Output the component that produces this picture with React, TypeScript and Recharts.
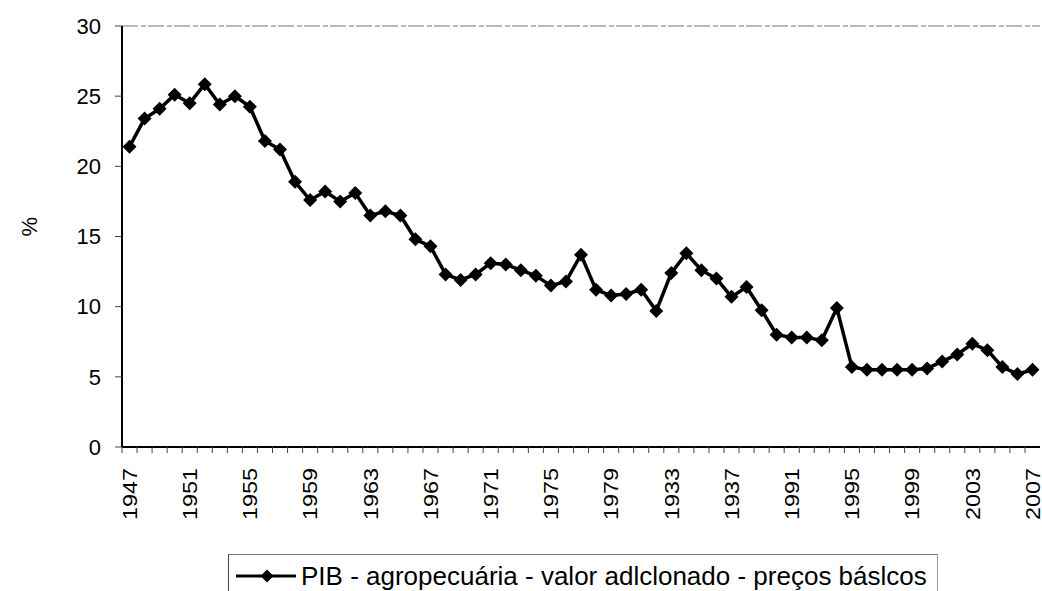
import { Legend, Line, LineChart, ReferenceLine, XAxis, YAxis } from 'recharts'

const years = [
  1947, 1948, 1949, 1950, 1951, 1952, 1953, 1954, 1955, 1956,
  1957, 1958, 1959, 1960, 1961, 1962, 1963, 1964, 1965, 1966,
  1967, 1968, 1969, 1970, 1971, 1972, 1973, 1974, 1975, 1976,
  1977, 1978, 1979, 1980, 1981, 1982, 1983, 1984, 1985, 1986,
  1987, 1988, 1989, 1990, 1991, 1992, 1993, 1994, 1995, 1996,
  1997, 1998, 1999, 2000, 2001, 2002, 2003, 2004, 2005, 2006, 2007,
]

const pibAgro = [
  21.4, 23.4, 24.1, 25.1, 24.5, 25.85, 24.4, 25.0, 24.25, 21.8,
  21.2, 18.9, 17.6, 18.2, 17.5, 18.1, 16.5, 16.8, 16.5, 14.8,
  14.3, 12.3, 11.9, 12.3, 13.1, 13.0, 12.6, 12.2, 11.5, 11.8,
  13.7, 11.2, 10.8, 10.9, 11.2, 9.7, 12.4, 13.8, 12.6, 12.0,
  10.7, 11.4, 9.75, 8.0, 7.8, 7.8, 7.6, 9.9, 5.7, 5.5,
  5.5, 5.5, 5.5, 5.6, 6.1, 6.6, 7.35, 6.9, 5.7, 5.2, 5.5,
]

// labels as printed on the original axis (scan shows 1933 / 1937)
const tickYears = [1947, 1951, 1955, 1959, 1963, 1967, 1971, 1975, 1979, 1983, 1987, 1991, 1995, 1999, 2003, 2007]
const tickLabels = ['1947', '1951', '1955', '1959', '1963', '1967', '1971', '1975', '1979', '1933', '1937', '1991', '1995', '1999', '2003', '2007']

const yTicks = [0, 5, 10, 15, 20, 25, 30]

const seriesName = 'PIB - agropecuária - valor adlclonado - preços báslcos'

const data = years.map((year, i) => ({ year, value: pibAgro[i] }))

const FONT = '"Liberation Sans", Arial, sans-serif'

function Diamond(props: any) {
  const { cx, cy, index } = props
  if (cx == null || cy == null) return null
  const r = 7
  return (
    <path
      key={`d-${index}`}
      d={`M${cx},${cy - r}L${cx + r},${cy}L${cx},${cy + r}L${cx - r},${cy}Z`}
      fill="#000"
    />
  )
}

function YearTick(props: any) {
  const { x, y, payload } = props
  const pos = tickYears.indexOf(payload.value)
  return (
    <g>
      <line x1={x - 7.5} x2={x - 7.5} y1={y} y2={y + 6} stroke="#444" strokeWidth={1} />
      {pos >= 0 && (
        <text
          transform={`translate(${x},${y + 21}) scale(1,1.17) rotate(-90)`}
          textAnchor="end"
          dy="0.36em"
          fontSize={20}
          fontFamily={FONT}
          fill="#000"
        >
          {tickLabels[pos]}
        </text>
      )}
    </g>
  )
}

function LegendBox() {
  return (
    <div
      style={{
        height: 37,
        borderTop: '1px solid #777',
        borderLeft: '1px solid #444',
        borderRight: '1px solid #999',
        display: 'flex',
        alignItems: 'center',
        fontFamily: FONT,
        fontSize: 26,
        color: '#000',
        boxSizing: 'border-box',
        paddingTop: 6,
      }}
    >
      <svg width={72} height={20} style={{ marginLeft: 6 }}>
        <line x1={1} x2={61} y1={10} y2={10} stroke="#000" strokeWidth={3} />
        <path d="M32,3.5L38.5,10L32,16.5L25.5,10Z" fill="#000" />
      </svg>
      <span style={{ whiteSpace: 'nowrap', marginLeft: -6 }}>{seriesName}</span>
    </div>
  )
}

export default function App() {
  return (
    <div style={{ position: 'absolute', left: 0, top: 0, background: '#fff' }}>
      <LineChart width={1042} height={591} data={data} margin={{ top: 26, right: 2, left: 0, bottom: 0 }}>
        <ReferenceLine y={30} stroke="#777" strokeDasharray="16 3 5 2" strokeWidth={1} />
        <XAxis
          dataKey="year"
          interval={0}
          tickLine={false}
          tickSize={0}
          tickMargin={0}
          height={107}
          padding={{ left: 7.5, right: 7.5 }}
          axisLine={{ stroke: '#000', strokeWidth: 2 }}
          tick={<YearTick />}
        />
        <YAxis
          domain={[0, 30]}
          ticks={yTicks}
          width={122}
          axisLine={{ stroke: '#000', strokeWidth: 2 }}
          tickLine={{ stroke: '#444' }}
          tickSize={7}
          tickMargin={14}
          tick={{ fontSize: 22, fontFamily: FONT, fill: '#000' }}
          label={{ value: '%', angle: -90, position: 'insideLeft', offset: 29, fontSize: 22, fontFamily: FONT, fill: '#000' }}
        />
        <Legend verticalAlign="bottom" content={<LegendBox />} wrapperStyle={{ left: 228, width: 710 }} />
        <Line
          type="linear"
          dataKey="value"
          name={seriesName}
          stroke="#000"
          strokeWidth={3.5}
          dot={Diamond}
          activeDot={false}
          isAnimationActive={false}
        />
      </LineChart>
    </div>
  )
}
